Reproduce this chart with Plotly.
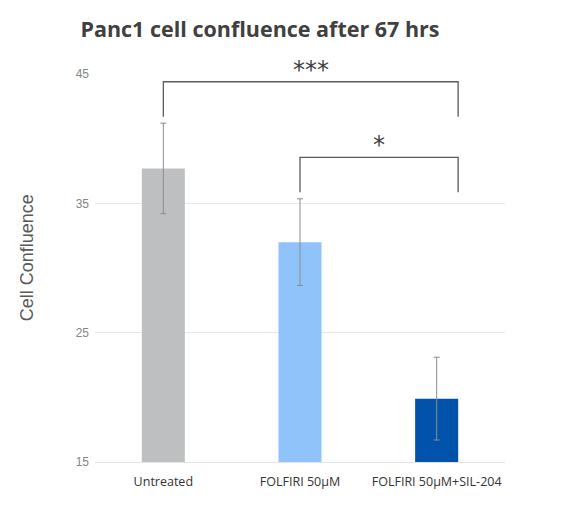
import plotly.graph_objects as go

# data
groups = ["Untreated", "FOLFIRI 50µM", "FOLFIRI 50µM+SIL-204"]
confluence = [37.7, 32.0, 19.9]
err = [3.5, 3.35, 3.2]
bar_colors = ["#BEBFC1", "#90C3FA", "#0152AB"]

# significance brackets: (from group, to group, label, top, foot)
brackets = [
    (0, 2, "***", 44.4, 41.7),
    (1, 2, "*", 38.55, 35.85),
]

fig = go.Figure()
fig.add_trace(go.Bar(
    x=list(range(len(groups))), y=confluence,
    marker_color=bar_colors, marker_line_width=0,
    width=0.315,
    error_y=dict(type="data", array=err, color="#8C8C8C", thickness=1, width=3),
))

for i0, i1, lab, top, foot in brackets:
    x0 = i0
    x1 = i1 + 0.157
    fig.add_shape(type="path",
                  path=f"M {x0} {foot} L {x0} {top} L {x1} {top} L {x1} {foot}",
                  xref="x", yref="y", line=dict(color="#5A5A5A", width=1.3))
    fig.add_annotation(x=(x0 + x1) / 2, y=top, text=lab, showarrow=False,
                       yshift=12, font=dict(size=24, color="#404040",
                                            family="DejaVu Sans"))

# y axis title as annotation so it can sit a little above the middle
fig.add_annotation(text="Cell Confluence", textangle=-90, showarrow=False,
                   xref="paper", yref="paper", x=-0.165, y=0.526,
                   xanchor="center", yanchor="middle",
                   font=dict(family="Liberation Sans", size=18, color="#595959"))

# page body has an 8px margin, so the figure is a bit smaller than the window
fig.update_layout(
    width=557, height=500,
    paper_bgcolor="white", plot_bgcolor="white",
    margin=dict(l=87, r=60, t=66, b=46),
    showlegend=False,
    title=dict(text="<b>Panc1 cell confluence after 67 hrs</b>",
               x=252 / 557, xanchor="center", y=1 - 21 / 500, yanchor="middle",
               font=dict(family="Open Sans", size=21.5, color="#404040")),
    font=dict(family="Liberation Sans"),
)
fig.update_xaxes(tickmode="array", tickvals=list(range(len(groups))), ticktext=groups,
                 range=[-0.5, 2.5], showgrid=False, zeroline=False,
                 showline=True, linecolor="#E3E3E3", linewidth=1,
                 tickfont=dict(family="Open Sans", size=12.5, color="#333333"),
                 ticks="", ticklabelstandoff=8)
fig.update_yaxes(range=[15, 45], tickvals=[15, 25, 35, 45],
                 showgrid=True, gridcolor="#E6E6E6", gridwidth=1, zeroline=False,
                 tickfont=dict(family="Liberation Sans", size=12, color="#858585"),
                 ticks="", ticklabelstandoff=5)

fig.write_html("out.html")
